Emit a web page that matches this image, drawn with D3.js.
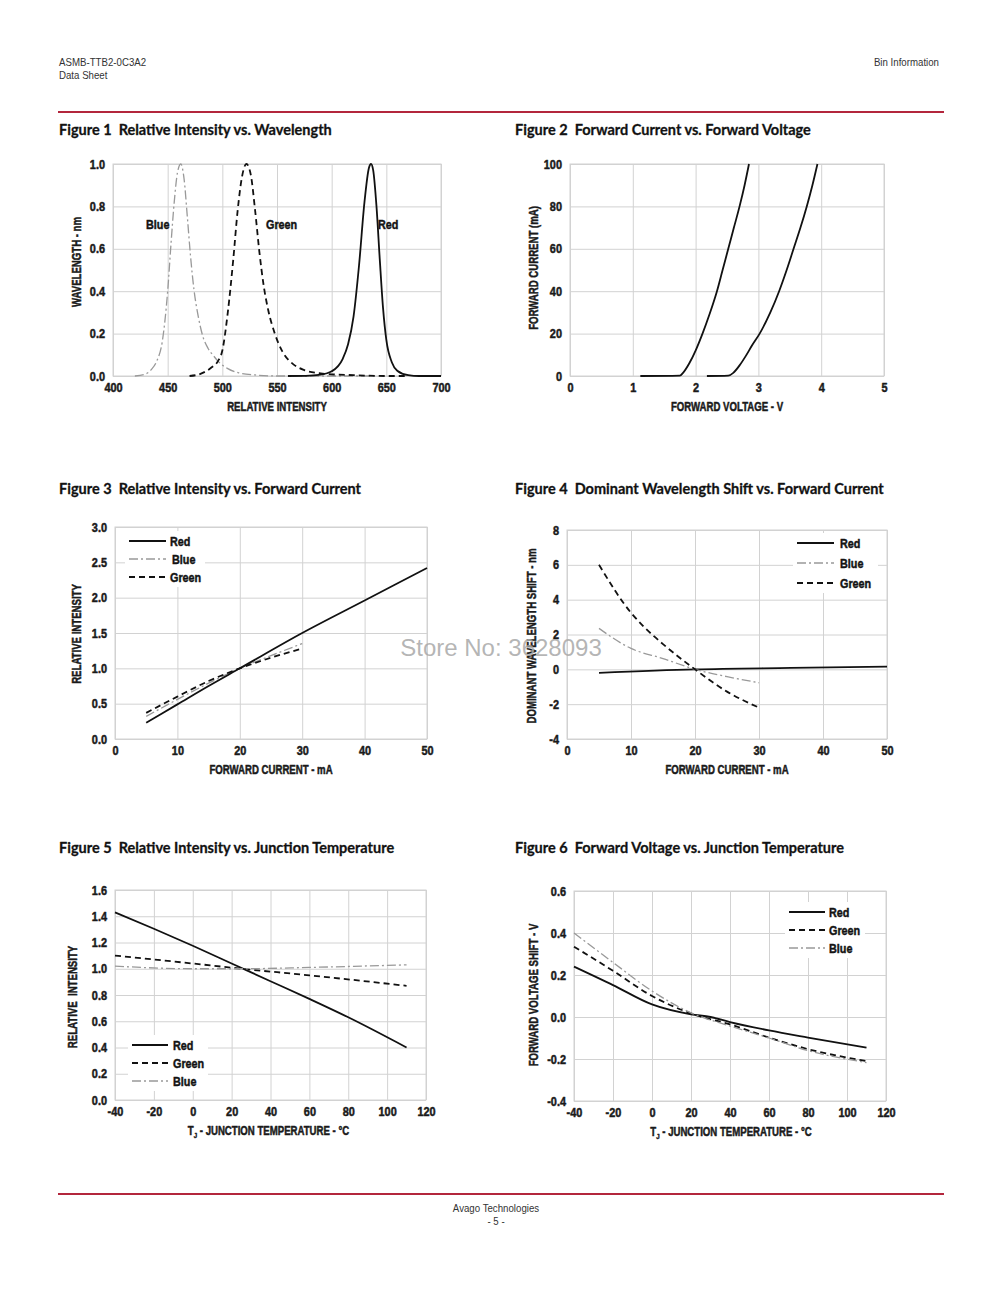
<!DOCTYPE html>
<html>
<head>
<meta charset="utf-8">
<script src="https://cdn.jsdelivr.net/npm/d3@7"></script>
<style>
  html, body { margin: 0; padding: 0; background: #fff; }
  svg { display: block; }
</style>
</head>
<body>
<svg id="page" width="1000" height="1294"></svg>
<script>
// ---------------- DATA ----------------
// Figure 1: Relative intensity vs wavelength (wavelength nm, intensity)
const fig1Wavelength = [400, 450, 500, 550, 600, 650, 700];
const fig1Intensity  = [0.0, 0.2, 0.4, 0.6, 0.8, 1.0];
const fig1Blue = [[420,0],[430,0.01],[435,0.03],[440,0.07],[445,0.16],[450,0.40],[453,0.62],[456,0.82],[459,0.96],[462,1.0],[465,0.93],[468,0.75],[471,0.56],[474,0.41],[478,0.28],[482,0.19],[487,0.13],[492,0.095],[496,0.07],[505,0.035],[515,0.015],[530,0.005],[550,0.0],[600,0.0],[640,0.0]];
const fig1Green = [[470,0],[480,0.01],[490,0.04],[496,0.07],[500,0.12],[505,0.30],[510,0.55],[514,0.78],[518,0.94],[522,1.0],[526,0.95],[530,0.78],[534,0.58],[538,0.42],[542,0.31],[548,0.20],[555,0.115],[565,0.055],[575,0.028],[590,0.012],[600,0.008],[620,0.004],[650,0.0],[670,0.0]];
const fig1Red = [[560,0],[580,0.002],[590,0.006],[600,0.022],[610,0.08],[615,0.15],[620,0.28],[625,0.52],[630,0.82],[634,0.98],[636,1.0],[638,0.97],[641,0.80],[644,0.55],[647,0.32],[650,0.17],[655,0.065],[660,0.025],[670,0.004],[680,0.0],[700,0.0]];
const fig1Labels = ["Blue", "Green", "Red"];

// Figure 2: Forward current vs forward voltage (V, mA)
const fig2Voltage = [0, 1, 2, 3, 4, 5];
const fig2Current = [0, 20, 40, 60, 80, 100];
const fig2CurveA = [[1.12,0],[1.75,0.2],[1.80,1.5],[1.90,6],[2.00,12],[2.11,20],[2.22,29],[2.34,40],[2.43,50],[2.52,60],[2.61,70],[2.70,80],[2.78,90],[2.85,100]];
const fig2CurveB = [[2.18,0],[2.52,0.2],[2.60,1.5],[2.70,5],[2.80,9.5],[2.90,14.5],[3.02,20],[3.19,30],[3.33,40],[3.45,50],[3.56,60],[3.67,70],[3.77,80],[3.86,90],[3.94,100]];

// Figure 3: Relative intensity vs forward current (mA, rel)
const fig3Current = [0, 10, 20, 30, 40, 50];
const fig3Intensity = [0.0, 0.5, 1.0, 1.5, 2.0, 2.5, 3.0];
const fig3Red   = [[5,0.23],[10,0.49],[15,0.75],[20,1.0],[30,1.5],[40,1.96],[50,2.42]];
const fig3Blue  = [[5,0.32],[10,0.56],[15,0.79],[20,1.0],[25,1.18],[30,1.35]];
const fig3Green = [[5,0.37],[10,0.60],[15,0.82],[20,1.0],[25,1.15],[30,1.28]];

// Figure 4: Dominant wavelength shift vs forward current (mA, nm)
const fig4Current = [0, 10, 20, 30, 40, 50];
const fig4Shift = [-4, -2, 0, 2, 4, 6, 8];
const fig4Red   = [[5,-0.2],[20,0.0],[35,0.08],[50,0.15]];
const fig4Blue  = [[5,2.35],[10,1.2],[15,0.62],[20,0.0],[25,-0.42],[30,-0.77]];
const fig4Green = [[5,6.0],[10,3.25],[12,2.45],[15,1.45],[20,0.0],[25,-1.28],[30,-2.2]];

// Figure 5: Relative intensity vs junction temperature (°C, rel)
const fig5Temp = [-40, -20, 0, 20, 40, 60, 80, 100, 120];
const fig5Intensity = [0.0, 0.2, 0.4, 0.6, 0.8, 1.0, 1.2, 1.4, 1.6];
const fig5Red   = [[-40,1.43],[-20,1.305],[0,1.175],[20,1.04],[40,0.905],[60,0.77],[80,0.63],[110,0.40]];
const fig5Green = [[-40,1.10],[0,1.04],[25,1.0],[60,0.95],[110,0.87]];
const fig5Blue  = [[-40,1.02],[0,1.0],[25,1.0],[60,1.01],[110,1.03]];

// Figure 6: Forward voltage shift vs junction temperature (°C, V)
const fig6Temp = [-40, -20, 0, 20, 40, 60, 80, 100, 120];
const fig6Shift = [-0.4, -0.2, 0.0, 0.2, 0.4, 0.6];
const fig6Red   = [[-40,0.24],[-20,0.152],[0,0.06],[20,0.013],[30,0.0],[40,-0.024],[60,-0.064],[80,-0.098],[110,-0.146]];
const fig6Green = [[-40,0.335],[-20,0.22],[0,0.10],[20,0.017],[40,-0.035],[60,-0.098],[80,-0.153],[110,-0.21]];
const fig6Blue  = [[-40,0.40],[-20,0.26],[0,0.124],[20,0.02],[40,-0.043],[60,-0.10],[80,-0.16],[110,-0.217]];

// ---------------- STYLE ----------------
const COND = "'Liberation Sans',Arial,sans-serif";
const TITLE_FONT = "Lato,'Open Sans',sans-serif";
const GRID = "#d2d2d2";
const STYLE = {
  red:   {stroke: "#111", width: 1.8, dash: null},
  green: {stroke: "#111", width: 1.8, dash: "6,4"},
  blue:  {stroke: "#999", width: 1.3, dash: "9,3,2,3"},
  plain: {stroke: "#111", width: 1.8, dash: null}
};

const svg = d3.select("#page");

// squeeze text horizontally (condensed look)
function condense(sel, sx, rotate) {
  sel.each(function () {
    const t = d3.select(this);
    const x = +t.attr("x") || 0, y = +t.attr("y") || 0;
    t.attr("x", null).attr("y", null)
      .attr("transform", `translate(${x},${y})${rotate ? " rotate(" + rotate + ")" : ""} scale(${sx},1)`);
  });
}
// heavier strokes for the bold condensed look
function heavy(sel, w) {
  sel.attr("stroke", "#1a1a1a").attr("stroke-width", w || 0.45).attr("stroke-linejoin", "round");
}

// ---------------- HEADER / FOOTER ----------------
function small(x, y, txt, anchor) {
  svg.append("text").attr("x", x).attr("y", y).attr("text-anchor", anchor || "start").text(txt)
    .style("font-family", COND).style("font-size", "11px").attr("fill", "#333")
    .call(condense, 0.88);
}
small(59, 66, "ASMB-TTB2-0C3A2");
small(59, 79, "Data Sheet");
small(939, 66, "Bin Information", "end");
svg.append("line").attr("x1", 58).attr("x2", 944).attr("y1", 112).attr("y2", 112)
  .attr("stroke", "#b3263c").attr("stroke-width", 2);
svg.append("line").attr("x1", 58).attr("x2", 944).attr("y1", 1194).attr("y2", 1194)
  .attr("stroke", "#b3263c").attr("stroke-width", 2);
small(496, 1212, "Avago Technologies", "middle");
small(496, 1225, "- 5 -", "middle");

// ---------------- PANEL ----------------
function panel(p) {
  const g = svg.append("g");
  const x = d3.scaleLinear().domain(p.xDomain).range([p.left, p.right]);
  const y = d3.scaleLinear().domain(p.yDomain).range([p.bottom, p.top]);
  const h = p.bottom - p.top, w = p.right - p.left;

  // title
  g.append("text").attr("x", p.titleX).attr("y", p.titleY).text(p.title)
    .style("font-family", TITLE_FONT).style("font-weight", "bold").style("font-size", "14.5px")
    .attr("fill", "#111").attr("xml:space", "preserve").style("white-space", "pre")
    .call(heavy, 0.3);

  // grid
  const gx = g.append("g").attr("transform", `translate(0,${p.bottom})`)
    .call(d3.axisBottom(x).tickValues(p.xTicks).tickSize(-h).tickFormat(""));
  gx.select(".domain").remove();
  gx.selectAll("line").attr("stroke", GRID).attr("stroke-width", 1);
  const gy = g.append("g").attr("transform", `translate(${p.left},0)`)
    .call(d3.axisLeft(y).tickValues(p.yTicks).tickSize(-w).tickFormat(""));
  gy.select(".domain").remove();
  gy.selectAll("line").attr("stroke", GRID).attr("stroke-width", 1);
  g.append("rect").attr("x", p.left).attr("y", p.top).attr("width", w).attr("height", h)
    .attr("fill", "none").attr("stroke", GRID).attr("stroke-width", 1);

  // tick labels
  const ax = g.append("g").attr("transform", `translate(0,${p.bottom})`)
    .call(d3.axisBottom(x).tickValues(p.xTicks).tickSize(0).tickPadding(7).tickFormat(p.xFormat));
  ax.select(".domain").remove();
  const ay = g.append("g").attr("transform", `translate(${p.left},0)`)
    .call(d3.axisLeft(y).tickValues(p.yTicks).tickSize(0).tickPadding(p.yPad || 8).tickFormat(p.yFormat));
  ay.select(".domain").remove();
  [ax, ay].forEach(a => a.selectAll("text")
    .style("font-family", COND).style("font-weight", "bold").style("font-size", "13px").attr("fill", "#1a1a1a")
    .call(heavy, 0.5)
    .call(condense, 0.84));

  // axis titles
  const xl = g.append("text").attr("x", (p.left + p.right) / 2 + (p.xLabelDx || 0)).attr("y", p.bottom + 35)
    .attr("text-anchor", "middle")
    .style("font-family", COND).style("font-weight", "bold").style("font-size", "12.5px").attr("fill", "#1a1a1a")
    .call(heavy, 0.5);
  if (p.xLabelSub) {
    xl.append("tspan").text("T");
    xl.append("tspan").text("J").attr("dy", 3).style("font-size", "8px");
    xl.append("tspan").text(p.xLabel).attr("dy", -3);
  } else {
    xl.text(p.xLabel);
  }
  xl.call(condense, 0.77);
  g.append("text").attr("x", p.yLabelX).attr("y", p.yLabelY)
    .attr("text-anchor", "middle").text(p.yLabel)
    .attr("xml:space", "preserve").style("white-space", "pre")
    .style("font-family", COND).style("font-weight", "bold").style("font-size", "12.5px").attr("fill", "#1a1a1a")
    .call(heavy, 0.5)
    .call(condense, 0.77, -90);

  // legend background + entries
  if (p.legend) {
    const L = p.legend;
    g.append("rect").attr("x", L.x - 4).attr("y", L.y - 10).attr("width", L.w)
      .attr("height", L.gap * (L.items.length - 1) + 20).attr("fill", "#fff");
    L.items.forEach((it, i) => {
      const s = STYLE[it.style];
      const yy = L.y + i * L.gap;
      g.append("line").attr("x1", L.x).attr("x2", L.x + L.len).attr("y1", yy).attr("y2", yy)
        .attr("stroke", s.stroke).attr("stroke-width", s.width).attr("stroke-dasharray", s.dash);
      g.append("text").attr("x", L.x + L.len + (it.dx || 4)).attr("y", yy + 5).text(it.name)
        .style("font-family", COND).style("font-weight", "bold").style("font-size", "13.5px").attr("fill", "#111")
        .call(heavy, 0.5)
        .call(condense, 0.8);
    });
  }

  // series
  const line = d3.line().x(d => x(d[0])).y(d => y(d[1])).curve(p.curve || d3.curveMonotoneX);
  p.series.forEach(sr => {
    const s = STYLE[sr.style];
    g.append("path").datum(sr.data).attr("d", line).attr("fill", "none")
      .attr("stroke", s.stroke).attr("stroke-width", s.width).attr("stroke-dasharray", s.dash)
      .attr("stroke-linejoin", "round");
  });

  // inline labels
  (p.labels || []).forEach(lb => {
    g.append("text").attr("x", lb.x).attr("y", lb.y).text(lb.text)
      .style("font-family", COND).style("font-weight", "bold").style("font-size", "13.5px").attr("fill", "#111")
      .call(heavy, 0.5)
      .call(condense, 0.8);
  });
  return {x, y};
}

const hy = s => s.replace(/\u2212/g, "-");
const f1 = d => hy(d3.format(".1f")(d));
const f0 = d => hy(d3.format("d")(d));

panel({
  title: "Figure 1  Relative Intensity vs. Wavelength", titleX: 59, titleY: 135,
  left: 113, right: 441, top: 164, bottom: 376,
  xDomain: [400, 700], yDomain: [0, 1], xTicks: fig1Wavelength, yTicks: fig1Intensity,
  xFormat: f0, yFormat: f1,
  xLabel: "RELATIVE INTENSITY", yLabel: "WAVELENGTH - nm", yLabelX: 81, yLabelY: 262,
  series: [
    {data: fig1Blue, style: "blue"},
    {data: fig1Green, style: "green"},
    {data: fig1Red, style: "red"}
  ],
  labels: [
    {x: 146, y: 229, text: fig1Labels[0]},
    {x: 266, y: 229, text: fig1Labels[1]},
    {x: 378, y: 229, text: fig1Labels[2]}
  ]
});

panel({
  title: "Figure 2  Forward Current vs. Forward Voltage", titleX: 515, titleY: 135,
  left: 570, right: 884, top: 164, bottom: 376,
  xDomain: [0, 5], yDomain: [0, 100], xTicks: fig2Voltage, yTicks: fig2Current,
  xFormat: f0, yFormat: f0,
  xLabel: "FORWARD VOLTAGE - V", yLabel: "FORWARD CURRENT (mA)", yLabelX: 538, yLabelY: 268,
  series: [
    {data: fig2CurveA, style: "plain"},
    {data: fig2CurveB, style: "plain"}
  ]
});

panel({
  title: "Figure 3  Relative Intensity vs. Forward Current", titleX: 59, titleY: 494,
  left: 115, right: 427, top: 527, bottom: 739,
  xDomain: [0, 50], yDomain: [0, 3], xTicks: fig3Current, yTicks: fig3Intensity,
  xFormat: f0, yFormat: f1,
  xLabel: "FORWARD CURRENT - mA", yLabel: "RELATIVE INTENSITY", yLabelX: 81, yLabelY: 634,
  legend: {x: 129, y: 541, gap: 18, len: 37, w: 80, items: [
    {name: "Red", style: "red"}, {name: "Blue", style: "blue", dx: 6}, {name: "Green", style: "green"}
  ]},
  series: [
    {data: fig3Blue, style: "blue"},
    {data: fig3Green, style: "green"},
    {data: fig3Red, style: "red"}
  ]
});

panel({
  title: "Figure 4  Dominant Wavelength Shift vs. Forward Current", titleX: 515, titleY: 494,
  left: 567, right: 887, top: 530, bottom: 739,
  xDomain: [0, 50], yDomain: [-4, 8], xTicks: fig4Current, yTicks: fig4Shift,
  xFormat: f0, yFormat: f0,
  xLabel: "FORWARD CURRENT - mA", yLabel: "DOMINANT WAVELENGTH SHIFT - nm", yLabelX: 536, yLabelY: 636,
  legend: {x: 797, y: 543, gap: 20, len: 37, w: 85, items: [
    {name: "Red", style: "red", dx: 6}, {name: "Blue", style: "blue", dx: 6}, {name: "Green", style: "green", dx: 6}
  ]},
  series: [
    {data: fig4Red, style: "red"},
    {data: fig4Blue, style: "blue"},
    {data: fig4Green, style: "green"}
  ]
});

panel({
  title: "Figure 5  Relative Intensity vs. Junction Temperature", titleX: 59, titleY: 853,
  left: 115, right: 426, top: 890, bottom: 1100,
  xDomain: [-40, 120], yDomain: [0, 1.6], xTicks: fig5Temp, yTicks: fig5Intensity,
  xFormat: f0, yFormat: f1,
  xLabel: " - JUNCTION TEMPERATURE - °C", xLabelSub: true, xLabelDx: -2,
  yLabel: "RELATIVE  INTENSITY", yLabelX: 77, yLabelY: 997,
  legend: {x: 132, y: 1045, gap: 18, len: 36, w: 80, items: [
    {name: "Red", style: "red", dx: 5}, {name: "Green", style: "green", dx: 5}, {name: "Blue", style: "blue", dx: 5}
  ]},
  series: [
    {data: fig5Red, style: "red"},
    {data: fig5Green, style: "green"},
    {data: fig5Blue, style: "blue"}
  ]
});

panel({
  title: "Figure 6  Forward Voltage vs. Junction Temperature", titleX: 515, titleY: 853,
  left: 574, right: 886, top: 891, bottom: 1101,
  xDomain: [-40, 120], yDomain: [-0.4, 0.6], xTicks: fig6Temp, yTicks: fig6Shift,
  xFormat: f0, yFormat: f1,
  xLabel: " - JUNCTION TEMPERATURE - °C", xLabelSub: true, xLabelDx: 1,
  yLabel: "FORWARD VOLTAGE SHIFT - V", yLabelX: 538, yLabelY: 995,
  legend: {x: 789, y: 912, gap: 18, len: 36, w: 80, items: [
    {name: "Red", style: "red"}, {name: "Green", style: "green"}, {name: "Blue", style: "blue"}
  ]},
  series: [
    {data: fig6Red, style: "red"},
    {data: fig6Green, style: "green"},
    {data: fig6Blue, style: "blue"}
  ]
});

// watermark
svg.append("text").attr("x", 501).attr("y", 656).attr("text-anchor", "middle").text("Store No: 3628093")
  .style("font-family", "'Liberation Sans',Arial,sans-serif").style("font-size", "24px")
  .attr("fill", "#a8a8a8").attr("fill-opacity", 0.85);
</script>
</body>
</html>
